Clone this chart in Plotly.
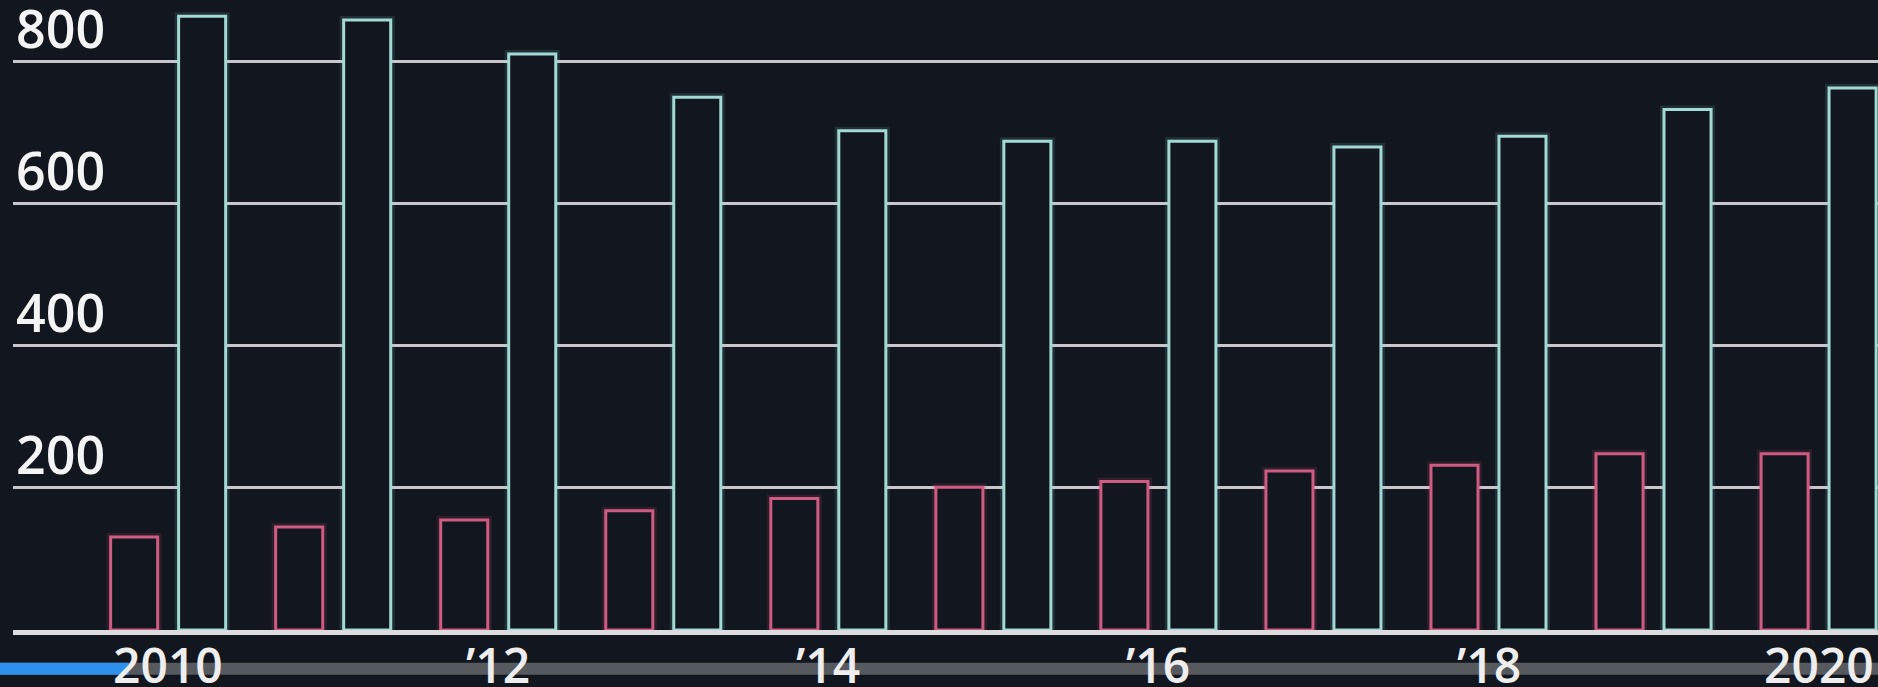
import plotly.graph_objects as go

years = [2010, 2011, 2012, 2013, 2014, 2015, 2016, 2017, 2018, 2019, 2020]
pink_values = [131, 145, 155, 168, 185, 201, 209, 224, 232, 248, 248]
teal_values = [864, 859, 811, 750, 703, 688, 688, 680, 695, 733, 763]
x_tick_vals = [2010, 2012, 2014, 2016, 2018, 2020]
x_tick_text = ["2010", "’12", "’14", "’16", "’18", "2020"]
y_tick_vals = [200, 400, 600, 800]
y_tick_text = ["200", "400", "600", "800"]

BG = "#12161e"
TEAL = "#a2d9d5"
PINK = "#cf5b83"
GRID = "#c9c6ce"
BAR_W = 0.285
OFF = 0.206
FONT = "Open Sans"

fig = go.Figure()

# soft glow layers
for vals, col, off in [(pink_values, "rgba(207,91,131,0.14)", -OFF), (teal_values, "rgba(130,215,210,0.14)", OFF)]:
    fig.add_trace(go.Bar(
        x=years, y=vals, width=BAR_W, offset=off - BAR_W / 2,
        marker=dict(color="rgba(0,0,0,0)", line=dict(color=col, width=8)),
        hoverinfo="skip", showlegend=False,
    ))

for vals, col, off in [(pink_values, PINK, -OFF), (teal_values, TEAL, OFF)]:
    fig.add_trace(go.Bar(
        x=years, y=vals, width=BAR_W, offset=off - BAR_W / 2,
        marker=dict(color=BG, line=dict(color=col, width=3)),
        showlegend=False,
    ))

y_labels = [
    dict(x=0, xref="paper", y=v, yref="y", text=t, showarrow=False,
         xanchor="left", yanchor="bottom", xshift=1, yshift=-3,
         font=dict(size=52, family=FONT, weight=600, color="#f4f4f4"))
    for v, t in zip(y_tick_vals, y_tick_text)
]
x_labels = [
    dict(x=v, xref="x", y=0, yref="paper", text=t, showarrow=False,
         xanchor="center", yanchor="middle", yshift=-34,
         font=dict(size=48, family=FONT, weight=600, color="#eeeeee"))
    for v, t in zip(x_tick_vals, x_tick_text)
]

fig.update_layout(
    width=1878, height=687,
    margin=dict(l=13, r=0, t=0, b=57),
    paper_bgcolor=BG, plot_bgcolor=BG,
    barmode="overlay",
    font=dict(family=FONT, color="#f2f2f2", size=50),
    xaxis=dict(
        range=[2009.06, 2020.36], automargin=False,
        tickvals=x_tick_vals, showticklabels=False,
        showgrid=False, zeroline=False,
        showline=True, linecolor="#dcdce0", linewidth=5, ticks="",
    ),
    yaxis=dict(
        range=[0, 887], automargin=False,
        tickvals=y_tick_vals, showticklabels=False,
        showgrid=True, gridcolor=GRID, gridwidth=3,
        zeroline=False, showline=False, ticks="",
    ),
    annotations=y_labels + x_labels,
    shapes=[
        dict(type="rect", xref="paper", yref="paper", x0=-0.01, x1=1.01, y0=-0.071, y1=-0.052,
             fillcolor="rgba(110,112,116,0.75)", line=dict(width=0), layer="below"),
        dict(type="rect", xref="paper", yref="paper", x0=-0.01, x1=0.062, y0=-0.071, y1=-0.052,
             fillcolor="#2f8fec", line=dict(width=0), layer="below"),
    ],
)

fig.write_html(
    "out.html",
    config={"displayModeBar": False},
    post_script="document.body.style.margin='0';document.body.style.overflow='hidden';",
)
